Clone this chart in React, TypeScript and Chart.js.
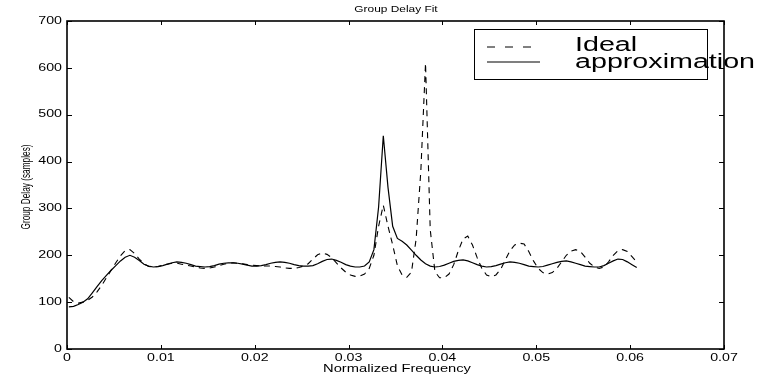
import React, { useEffect, useRef } from "react";
import { Chart, registerables } from "chart.js";

Chart.register(...registerables);

// Normalized frequency samples
const freq = [
  0.0002, 0.0007, 0.0012, 0.0017, 0.0022, 0.0027, 0.0032, 0.0037, 0.0042, 0.0047,
  0.0052, 0.0057, 0.0062, 0.0067, 0.0072, 0.0077, 0.0082, 0.0087, 0.0092, 0.0097,
  0.0102, 0.0107, 0.0112, 0.0117, 0.0122, 0.0127, 0.0132, 0.0137, 0.0142, 0.0147,
  0.0152, 0.0157, 0.0162, 0.0167, 0.0172, 0.0177, 0.0182, 0.0187, 0.0192, 0.0197,
  0.0202, 0.0207, 0.0212, 0.0217, 0.0222, 0.0227, 0.0232, 0.0237, 0.0242, 0.0247,
  0.0252, 0.0257, 0.0262, 0.0267, 0.0272, 0.0277, 0.0282, 0.0287, 0.0292, 0.0297,
  0.0302, 0.0307, 0.0312, 0.0317, 0.0322, 0.0327, 0.0332, 0.0337, 0.0342, 0.0347,
  0.0352, 0.0357, 0.0362, 0.0367, 0.0372, 0.0377, 0.0382, 0.0387, 0.0392, 0.0397,
  0.0402, 0.0407, 0.0412, 0.0417, 0.0422, 0.0427, 0.0432, 0.0437, 0.0442, 0.0447,
  0.0452, 0.0457, 0.0462, 0.0467, 0.0472, 0.0477, 0.0482, 0.0487, 0.0492, 0.0497,
  0.0502, 0.0507, 0.0512, 0.0517, 0.0522, 0.0527, 0.0532, 0.0537, 0.0542, 0.0547,
  0.0552, 0.0557, 0.0562, 0.0567, 0.0572, 0.0577, 0.0582, 0.0587, 0.0592, 0.0597,
  0.0602, 0.0607,
];

// Ideal group delay (dashed)
const idealDelay = [
  110, 101, 98, 100, 104, 111, 122, 136, 152, 168,
  184, 199, 210, 212, 204, 192, 182, 176, 175, 176,
  179, 181, 183, 183, 181, 179, 177, 175, 173, 172,
  173, 175, 178, 181, 183, 184, 183, 182, 180, 179,
  178, 177, 177, 177, 176, 175, 173, 172, 172, 174,
  177, 182, 192, 201, 205, 202, 195, 184, 173, 164,
  158, 155, 156, 160, 172, 200, 262, 307, 262, 222,
  178, 158, 153, 164, 235, 380, 610, 255, 165, 152,
  152, 160, 180, 210, 235, 241, 222, 195, 172, 158,
  154, 158, 170, 190, 210, 222, 226, 224, 208, 188,
  172, 163, 160, 163, 172, 186, 200, 209, 212, 208,
  196, 183, 175, 172, 175, 186, 200, 210, 212, 208,
  197, 186,
];

// Approximation group delay (solid)
const approxDelay = [
  90, 91, 95, 100, 107, 120, 133, 146, 157, 168,
  178, 188, 196, 200, 196, 189, 181, 177, 175, 176,
  178, 181, 184, 186, 185, 183, 180, 177, 176, 175,
  176, 178, 181, 183, 184, 184, 183, 181, 179, 177,
  177, 178, 180, 183, 185, 186, 185, 183, 180, 178,
  177, 177, 178, 182, 187, 191, 192, 189, 185, 180,
  177, 175, 175, 177, 186, 212, 303, 455, 345, 262,
  236, 230, 222, 211, 200, 190, 182, 177, 175, 176,
  179, 183, 187, 189, 190, 188, 184, 180, 177, 175,
  176, 178, 181, 184, 186, 185, 183, 180, 177, 176,
  175, 176, 179, 182, 185, 187, 188, 186, 183, 180,
  177, 176, 175, 175, 178, 183, 188, 192, 191, 186,
  180, 174,
];

const xTicks = [0, 0.01, 0.02, 0.03, 0.04, 0.05, 0.06, 0.07];
const xTickLabels = ["0", "0.01", "0.02", "0.03", "0.04", "0.05", "0.06", "0.07"];
const yTicks = [0, 100, 200, 300, 400, 500, 600, 700];
const yTickLabels = ["0", "100", "200", "300", "400", "500", "600", "700"];

const titleText = "Group Delay Fit";
const xLabelText = "Normalized Frequency";
const yLabelText = "Group Delay (samples)";
const legendLabels = ["Ideal", "approximation"];

const FONT = '"Liberation Sans", Arial, Helvetica, sans-serif';
const SX = 1.42;

function drawText(
  ctx: CanvasRenderingContext2D,
  text: string,
  x: number,
  y: number,
  size: number,
  sx: number,
  align: CanvasTextAlign,
  baseline: CanvasTextBaseline,
  rotate = 0,
  sy = 1
) {
  ctx.save();
  ctx.translate(x, y);
  if (rotate) ctx.rotate(rotate);
  ctx.scale(sx, sy);
  ctx.font = `${size}px ${FONT}`;
  ctx.fillStyle = "#000";
  ctx.textAlign = align;
  ctx.textBaseline = baseline;
  ctx.fillText(text, 0, 0);
  ctx.restore();
}

const decorPlugin = {
  id: "matlabDecor",
  afterDatasetsDraw(chart: any) {
    const { ctx, chartArea, scales } = chart;
    const { left, right, top, bottom } = chartArea;
    const xs = scales.x;
    const ys = scales.y;

    // legend box
    const lx0 = 474, ly0 = 29, lx1 = 707, ly1 = 79;
    ctx.save();
    ctx.fillStyle = "#fff";
    ctx.fillRect(lx0, ly0, lx1 - lx0, ly1 - ly0);
    ctx.strokeStyle = "#000";
    ctx.lineWidth = 1;
    ctx.strokeRect(lx0 + 0.5, ly0 + 0.5, lx1 - lx0, ly1 - ly0);
    ctx.lineWidth = 1;
    ctx.setLineDash([8, 10]);
    ctx.beginPath();
    ctx.moveTo(487, 47);
    ctx.lineTo(540, 47);
    ctx.stroke();
    ctx.setLineDash([]);
    ctx.lineWidth = 1.1;
    ctx.beginPath();
    ctx.moveTo(487, 62);
    ctx.lineTo(540, 62);
    ctx.stroke();
    ctx.restore();

    // axes box
    ctx.save();
    ctx.strokeStyle = "#000";
    ctx.lineWidth = 1.6;
    ctx.strokeRect(left, top, right - left, bottom - top);
    ctx.lineWidth = 1;
    ctx.beginPath();
    for (const v of xTicks) {
      const px = Math.round(xs.getPixelForValue(v)) + 0.5;
      ctx.moveTo(px, bottom);
      ctx.lineTo(px, bottom - 4);
      ctx.moveTo(px, top);
      ctx.lineTo(px, top + 4);
    }
    for (const v of yTicks) {
      const py = Math.round(ys.getPixelForValue(v)) + 0.5;
      ctx.moveTo(left, py);
      ctx.lineTo(left + 5, py);
      ctx.moveTo(right, py);
      ctx.lineTo(right - 5, py);
    }
    ctx.stroke();
    ctx.restore();

    // tick labels
    xTicks.forEach((v, i) => {
      drawText(ctx, xTickLabels[i], xs.getPixelForValue(v), 358, 10, SX, "center", "middle");
    });
    yTicks.forEach((v, i) => {
      drawText(ctx, yTickLabels[i], 62, ys.getPixelForValue(v), 10, SX, "right", "middle");
    });

    // titles
    drawText(ctx, titleText, 396, 10, 8.4, SX, "center", "middle");
    drawText(ctx, xLabelText, 397, 369, 10.5, 1.4, "center", "middle");
    drawText(ctx, yLabelText, 27, 187, 9, 0.92, "center", "middle", -Math.PI / 2, 1.4);

    // legend texts
    drawText(ctx, legendLabels[0], 575, 46, 19.5, 1.47, "left", "middle");
    drawText(ctx, legendLabels[1], 575, 63, 19.5, 1.47, "left", "middle");
  },
};

export default function App() {
  const canvasRef = useRef<HTMLCanvasElement | null>(null);

  useEffect(() => {
    const canvas = canvasRef.current;
    if (!canvas) return;
    const chart = new Chart(canvas, {
      type: "line",
      data: {
        datasets: [
          {
            label: legendLabels[0],
            data: freq.map((f, i) => ({ x: f, y: idealDelay[i] })),
            borderColor: "#000",
            borderWidth: 1.1,
            borderDash: [6, 5],
            pointRadius: 0,
            tension: 0,
            fill: false,
          },
          {
            label: legendLabels[1],
            data: freq.map((f, i) => ({ x: f, y: approxDelay[i] })),
            borderColor: "#000",
            borderWidth: 1.2,
            pointRadius: 0,
            tension: 0,
            fill: false,
          },
        ],
      },
      options: {
        responsive: false,
        animation: false,
        devicePixelRatio: 1,
        layout: { padding: { left: 67, right: 55, top: 21, bottom: 31 } },
        plugins: {
          legend: { display: false },
          title: { display: false },
          tooltip: { enabled: false },
        },
        scales: {
          x: { type: "linear", min: 0, max: 0.07, display: false },
          y: { type: "linear", min: 0, max: 700, display: false },
        },
      },
      plugins: [decorPlugin],
    });
    return () => chart.destroy();
  }, []);

  return (
    <div style={{ position: "absolute", left: 0, top: 0, width: 779, height: 380, background: "#fff" }}>
      <canvas ref={canvasRef} width={779} height={380} style={{ display: "block" }} />
    </div>
  );
}
